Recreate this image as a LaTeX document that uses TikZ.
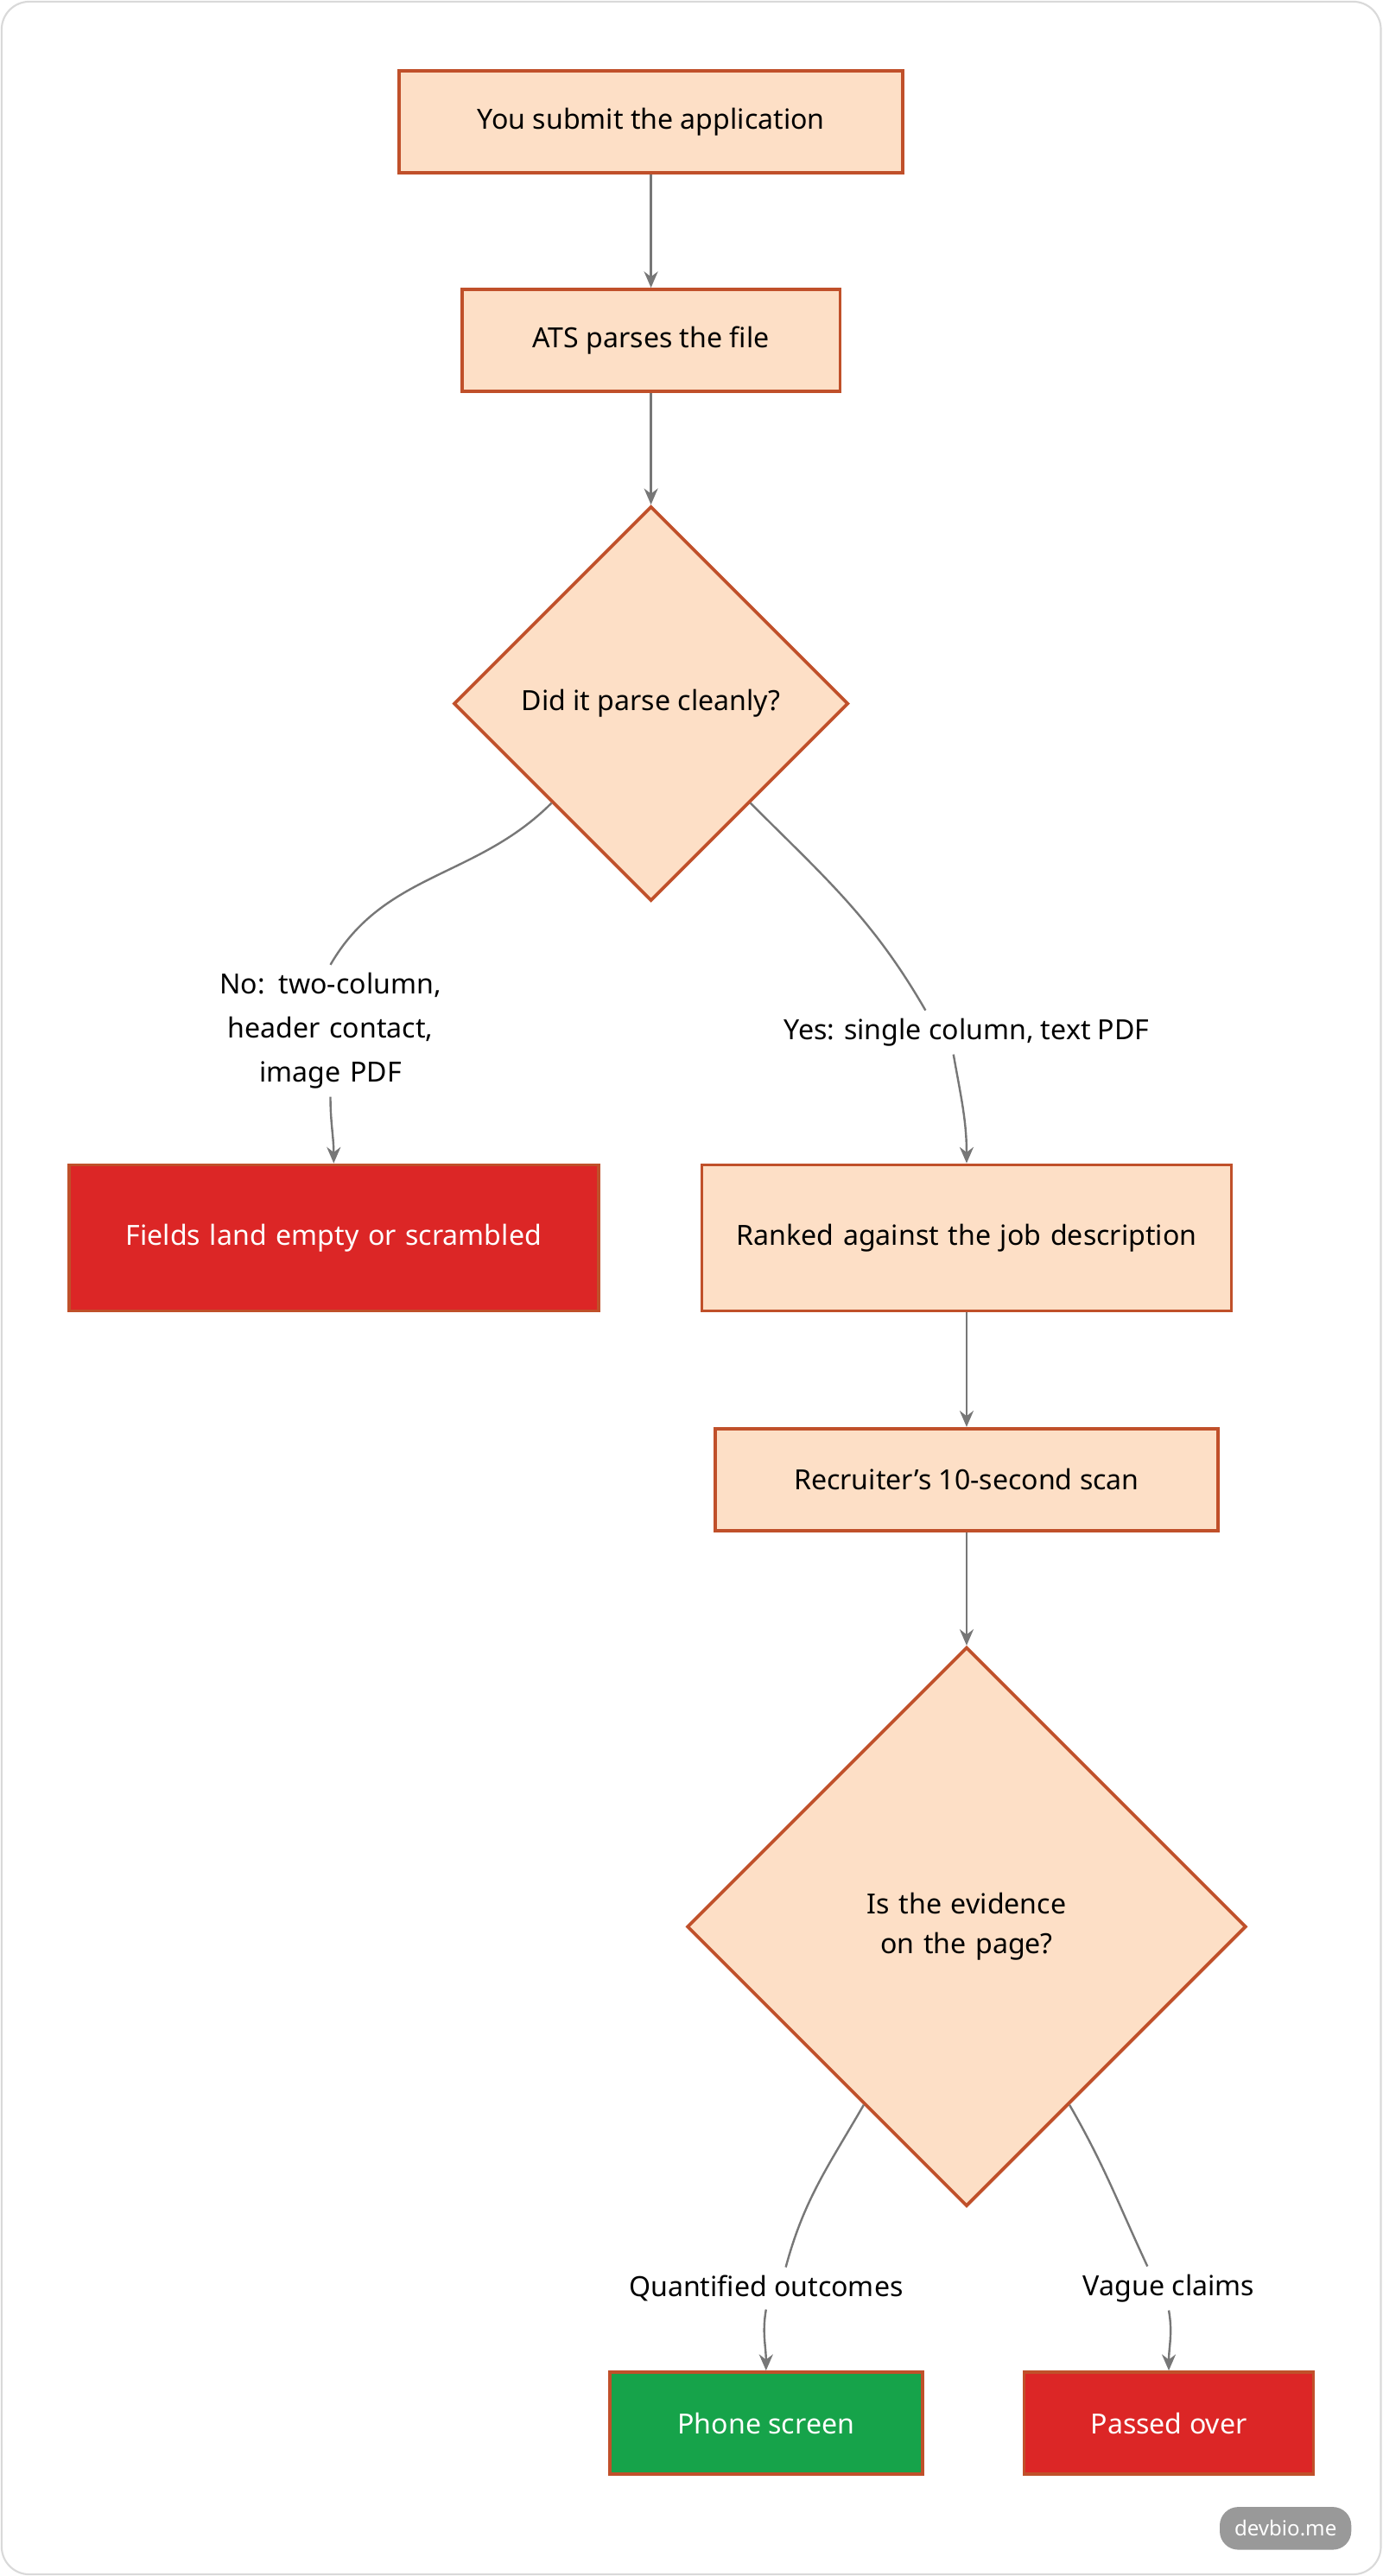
\documentclass[tikz,border=0pt]{standalone}
\usepackage{fontspec}
\setmainfont{Noto Sans}
\usetikzlibrary{shapes.geometric, arrows.meta}
\definecolor{peach}{HTML}{FDDFC6}
\definecolor{rust}{HTML}{C0502A}
\definecolor{alarm}{HTML}{DC2626}
\definecolor{okay}{HTML}{16A34A}
\definecolor{wire}{HTML}{777777}
\tikzset{
  stage/.style={draw=rust, fill=peach, line width=1.4pt, minimum height=1.55cm, align=center, font=\fontsize{12}{17}\selectfont},
  bad/.style={stage, fill=alarm, text=white},
  good/.style={stage, fill=okay, text=white},
  ask/.style={diamond, draw=rust, fill=peach, line width=1.4pt, inner sep=0pt, align=center, font=\fontsize{12}{17}\selectfont},
  tag/.style={align=center, font=\fontsize{12}{19}\selectfont},
  flow/.style={draw=wire, line width=0.9pt, -{Stealth[length=7pt,width=6pt]}},
  line/.style={draw=wire, line width=0.9pt}
}
\begin{document}
\begin{tikzpicture}[x=0.025cm, y=-0.025cm]
        \useasboundingbox (0,0) rectangle (841,1567);
        \draw[gray!30, line width=0.8pt, rounded corners=12pt] (1,1) rectangle (840,1566);

        % main path
        \node[stage, minimum width=7.65cm] (submit) at (396,74) {You submit the application};
        \node[stage, minimum width=5.75cm] (parse) at (396,207) {ATS parses the file};
        \node[ask, minimum width=6cm, minimum height=6cm] (clean) at (396,428) {Did it parse cleanly?};
        \node[bad, minimum width=8.05cm, minimum height=2.22cm, text width=7cm] (empty) at (203,753) {Fields land empty or scrambled};
        \node[stage, minimum width=8.05cm, minimum height=2.22cm, text width=7cm] (ranked) at (588,753) {Ranked against the job description};
        \node[stage, minimum width=7.65cm] (scan) at (588,900) {Recruiter's 10-second scan};
        \node[ask, minimum width=8.5cm, minimum height=8.5cm, text width=5cm] (evidence) at (588,1172) {Is the evidence on the page?};
        \node[good, minimum width=4.75cm] (phone) at (466,1474) {Phone screen};
        \node[bad, minimum width=4.4cm] (passed) at (711,1474) {Passed over};

        % edge labels
        \node[tag, text width=5.8cm] (no) at (201,627) {No: two-column, header contact,\\ image PDF};
        \node[tag] (yes) at (588,628) {Yes: single column, text PDF};
        \node[tag] (quant) at (466,1392) {Quantified outcomes};
        \node[tag] (vague) at (711,1392) {Vague claims};

        \draw[flow] (submit) -- (parse);
        \draw[flow] (parse) -- (clean);
        \draw[line] (clean.south west) to[out=225, in=60] (no.north);
        \draw[flow] (no.south) to[out=-90, in=90] (empty.north);
        \draw[line] (clean.south east) to[out=-45, in=120] (yes.north -| 563,0);
        \draw[flow] (yes.south -| 580,0) to[out=-80, in=90] (ranked.north);
        \draw[flow] (ranked) -- (scan);
        \draw[flow] (scan) -- (evidence);
        \draw[line] (evidence.240) to[out=240, in=75] (quant.north -| 478,0);
        \draw[flow] (quant.south) to[out=-100, in=90] (phone.north);
        \draw[line] (evidence.300) to[out=-60, in=115] (vague.north -| 698,0);
        \draw[flow] (vague.south) to[out=-80, in=90] (passed.north);

        % badge
        \node[fill=gray!80, text=white, rounded corners=8pt, minimum width=2cm, minimum height=0.65cm, font=\fontsize{9}{10}\selectfont] (badge) at (782,1538) {devbio.me};
\end{tikzpicture}
\end{document}
